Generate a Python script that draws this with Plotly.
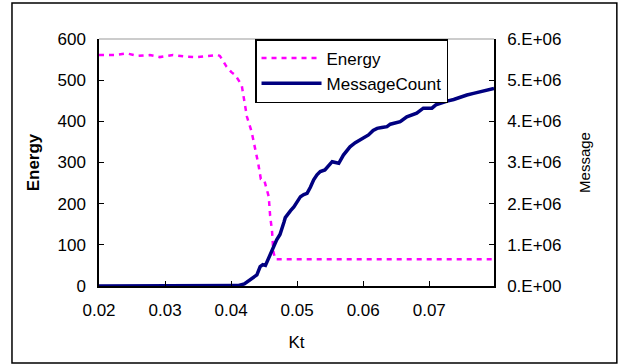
import plotly.graph_objects as go

# ---- data ----
energy_kt = [0.0200, 0.0224, 0.0242, 0.0259, 0.0277, 0.0292, 0.0312, 0.0333, 0.0348, 0.0365, 0.0380,
             0.0383, 0.0393, 0.0400, 0.0406, 0.0416, 0.0420, 0.0424, 0.0431, 0.0436, 0.0441, 0.0445,
             0.0450, 0.0457, 0.0459, 0.0462, 0.0464, 0.0467, 0.0500, 0.0550, 0.0600, 0.0650, 0.0700,
             0.0750, 0.0798]
energy_val = [561, 561, 565, 559, 561, 556, 561, 557, 556, 559, 561,
              559, 533, 520, 513, 488, 448, 411, 375, 338, 298, 260,
              258, 217, 172, 132, 83, 65, 65, 65, 65, 65, 65,
              65, 65]

msg_kt = [0.0200, 0.0400, 0.0410, 0.0420, 0.0429, 0.0435, 0.0439, 0.0444, 0.0448, 0.0452, 0.0456,
          0.0459, 0.0464, 0.0469, 0.0474, 0.0477, 0.0480, 0.0482, 0.0486, 0.0490, 0.0495, 0.0500,
          0.0505, 0.0510, 0.0515, 0.0520, 0.0525, 0.0530, 0.0535, 0.0542, 0.0548, 0.0553, 0.0558,
          0.0563, 0.0570, 0.0575, 0.0580, 0.0588, 0.0595, 0.0602, 0.0608, 0.0615, 0.0621, 0.0628,
          0.0636, 0.0641, 0.0646, 0.0656, 0.0666, 0.0674, 0.0681, 0.0691, 0.0698, 0.0704, 0.0710,
          0.0717, 0.0727, 0.0737, 0.0747, 0.0757, 0.0767, 0.0777, 0.0787, 0.0798]
msg_val = [0, 0, 0.01e6, 0.05e6, 0.15e6, 0.20e6, 0.27e6, 0.47e6, 0.52e6, 0.50e6, 0.65e6,
           0.80e6, 0.95e6, 1.12e6, 1.25e6, 1.38e6, 1.55e6, 1.66e6, 1.76e6, 1.83e6, 1.92e6, 2.05e6,
           2.17e6, 2.22e6, 2.25e6, 2.40e6, 2.58e6, 2.70e6, 2.78e6, 2.82e6, 2.92e6, 3.02e6, 3.00e6,
           2.98e6, 3.18e6, 3.28e6, 3.38e6, 3.48e6, 3.55e6, 3.62e6, 3.67e6, 3.78e6, 3.83e6, 3.85e6,
           3.87e6, 3.93e6, 3.95e6, 3.99e6, 4.11e6, 4.17e6, 4.20e6, 4.32e6, 4.32e6, 4.32e6, 4.40e6,
           4.44e6, 4.49e6, 4.53e6, 4.59e6, 4.64e6, 4.68e6, 4.72e6, 4.76e6, 4.80e6]

x_ticks = [0.02, 0.03, 0.04, 0.05, 0.06, 0.07]
x_ticklabels = ["0.02", "0.03", "0.04", "0.05", "0.06", "0.07"]
y1_ticks = [0, 100, 200, 300, 400, 500, 600]
y2_ticks = [0, 1e6, 2e6, 3e6, 4e6, 5e6, 6e6]
y2_ticklabels = ["0.E+00", "1.E+06", "2.E+06", "3.E+06", "4.E+06", "5.E+06", "6.E+06"]

FONT = "Liberation Sans, Arial, sans-serif"

fig = go.Figure()
fig.add_trace(go.Scatter(x=energy_kt, y=energy_val, name="Energy", mode="lines",
                         line=dict(color="#FF00FF", width=2.5, dash="5px,5px")))
fig.add_trace(go.Scatter(x=msg_kt, y=msg_val, name="MessageCount", mode="lines", yaxis="y2",
                         line=dict(color="#000080", width=3.5)))

axis_common = dict(showgrid=False, zeroline=False, showline=True, linecolor="black", linewidth=1.5,
                   ticks="inside", ticklen=5, tickcolor="black",
                   tickfont=dict(family=FONT, size=17, color="black"))

fig.update_layout(
    width=618, height=364,
    margin=dict(l=99, r=124, t=39, b=78),
    paper_bgcolor="white", plot_bgcolor="white",
    font=dict(family=FONT, size=17, color="black"),
    showlegend=True,
    legend=dict(x=0.395, y=1.0, xanchor="left", yanchor="top", bgcolor="white",
                bordercolor="black", borderwidth=1.5, font=dict(family=FONT, size=17),
                tracegroupgap=0, itemwidth=60),
    xaxis=dict(range=[0.02, 0.0798], tickvals=x_ticks, ticktext=x_ticklabels, ticklabelstandoff=8,
               title=dict(text="Kt", standoff=17, font=dict(family=FONT, size=17)),
               **axis_common),
    yaxis=dict(range=[0, 600], tickvals=y1_ticks, ticklabelstandoff=8,
               title=dict(text="<b>Energy</b>", standoff=14, font=dict(family=FONT, size=17)),
               **axis_common),
    yaxis2=dict(range=[0, 6e6], tickvals=y2_ticks, ticktext=y2_ticklabels, overlaying="y", side="right",
                ticklabelstandoff=8,
                title=dict(text="Message", standoff=19, font=dict(family=FONT, size=15)),
                **axis_common),
    shapes=[
        dict(type="line", xref="paper", yref="paper", x0=0, x1=1, y0=1, y1=1,
             line=dict(color="#999999", width=1)),
        dict(type="rect", xref="paper", yref="paper", x0=-0.2203, x1=1.311, y0=-0.3117, y1=1.1457,
             line=dict(color="black", width=1.5)),
    ],
)

fig.write_html("out.html", config={"displayModeBar": False},
               post_script="document.body.style.margin='0';")
